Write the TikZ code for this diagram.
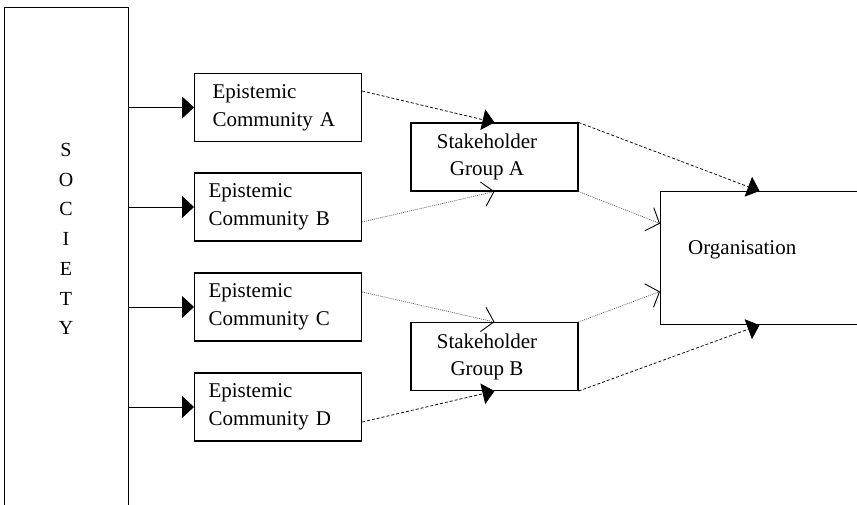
\documentclass[tikz,border=0pt]{standalone}
\usepackage{fontspec}
\setmainfont{Liberation Serif}
\usetikzlibrary{arrows.meta}
\begin{document}
\begin{tikzpicture}[x=1pt, y=-1pt,
  box/.style={draw, line width=1.1pt, inner sep=0pt},
  epi/.style={box, minimum height=68pt, text width=139pt, inner xsep=14pt,
    align=left, font=\fontsize{21}{28}\selectfont},
  stake/.style={box, minimum width=167pt, minimum height=68pt},
  lab/.style={inner sep=0pt, align=center, font=\fontsize{21}{27}\selectfont},
  feed/.style={line width=0.9pt, -{Triangle[length=12pt, width=22pt]}},
  strong/.style={line width=0.75pt, dash pattern=on 3pt off 2pt,
    -{Triangle[length=12pt, width=21pt]}},
  weak/.style={line width=0.75pt, black!60, dash pattern=on 1pt off 1pt,
    -{Straight Barb[length=11pt, width=25pt, line width=0.9pt, color=black]}}
]
\useasboundingbox (0,0) rectangle (857,505);
\begin{scope}
\clip (0,0) rectangle (857,505);

% society column, running past the lower edge
\node[box, anchor=north west, minimum width=124pt, minimum height=520pt] (soc) at (4,7) {};
\node[inner sep=0pt, align=center, font=\fontsize{20}{29.7}\selectfont] (soctext) at (66,239)
  {S\\O\\C\\I\\E\\T\\Y};

% epistemic communities
\node[epi, anchor=west, text width=131pt, inner xsep=18pt] (ea) at (194,107.5) {Epistemic\\Community A};
\node[epi, anchor=west] (eb) at (194,207) {Epistemic\\Community B};
\node[epi, anchor=west] (ec) at (194,307) {Epistemic\\Community C};
\node[epi, anchor=west] (ed) at (194,407) {Epistemic\\Community D};

% stakeholder groups
\node[stake] (sa) at (494.5,157) {};
\node[lab] (satext) at (487,157) {Stakeholder\\Group A};
\node[stake] (sb) at (494.5,356.5) {};
\node[lab] (sbtext) at (487,356.5) {Stakeholder\\Group B};

% organisation, running past the right edge
\node[box, anchor=north west, minimum width=198pt, minimum height=133pt] (org) at (660,191) {};
\node[inner sep=0pt, anchor=west, font=\fontsize{21}{27}\selectfont] (orgtext) at (688,250) {Organisation};

% society feeds every community
\foreach \e in {ea,eb,ec,ed}
  \draw[feed] (soc.east |- \e.west) -- (\e.west);

% communities to stakeholder groups
\draw[strong] ([yshift=16.5pt]ea.east) -- (sa.north);
\draw[weak]   ([yshift=-15pt]eb.east) -- (sa.south);
\draw[weak]   ([yshift=15pt]ec.east) -- (sb.north);
\draw[strong] ([yshift=-15pt]ed.east) -- (sb.south);

% stakeholder groups to the organisation
\draw[strong] (sa.north east) -- (org.north);
\draw[weak]   (sa.south east) -- ([yshift=34.5pt]org.west);
\draw[weak]   (sb.north east) -- ([yshift=-33.5pt]org.west);
\draw[strong] (sb.south east) -- (org.south);
\end{scope}
\end{tikzpicture}
\end{document}
